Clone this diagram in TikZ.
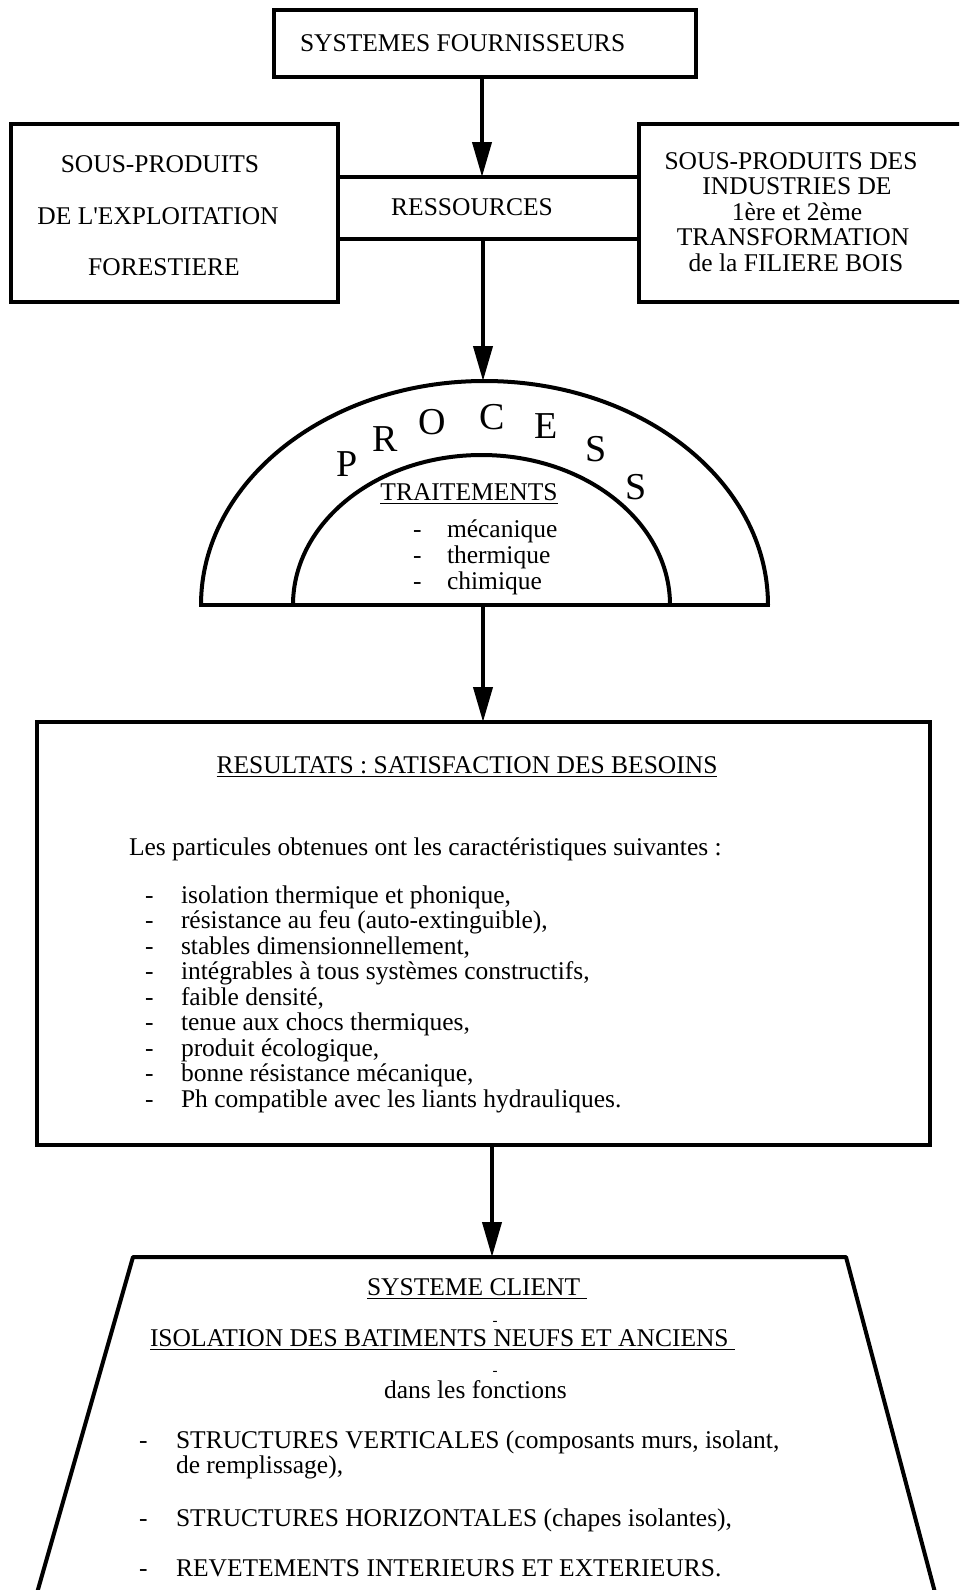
\documentclass[tikz,border=0pt]{standalone}
\usepackage{fontspec}
\setmainfont{Liberation Serif}[Ligatures=TeXOff]
\usetikzlibrary{arrows.meta}
\begin{document}
\begin{tikzpicture}[x=0.5pt,y=-0.5pt,
  every node/.style={inner sep=0pt, outer sep=0pt, font=\fontsize{12.75}{12.75}\selectfont},
  boxln/.style={draw, line width=2pt},
  outl/.style={line width=2pt},
  arr/.style={line width=2pt, -{Triangle[length=17.5pt,width=9.5pt]}},
  txt/.style={anchor=base},
  txtw/.style={anchor=base west},
  tiny/.style={anchor=base, font=\fontsize{7.5}{7.5}\selectfont},
  big/.style={anchor=center, font=\fontsize{19}{19}\selectfont}]
\useasboundingbox (0,0) rectangle (959,1590);
\clip (0,0) rectangle (959,1590);

% boxes
\node[boxln, minimum width=211pt, minimum height=33.5pt] (sf) at (485,43.5) {};
\node[boxln, minimum width=163.5pt, minimum height=89pt] (left) at (174.5,213) {};
\node[boxln, minimum width=180.5pt, minimum height=89pt] (right) at (819.5,213) {};
\node[boxln, minimum width=150.5pt, minimum height=31pt] (res) at (488.5,208) {};
\node[boxln, minimum width=446.5pt, minimum height=211.5pt] (resu) at (483.5,933.5) {};

% process shape
\draw[outl] (201,605) arc[start angle=180, end angle=0, x radius=141.75pt, y radius=112pt];
\draw[outl] (293,605) arc[start angle=180, end angle=0, x radius=94.25pt, y radius=75pt];
\draw[outl] (199,605) -- (770,605);
\coordinate (arctop) at (483,381);
\coordinate (basec) at (483,605);

% client trapezium
\draw[outl, line join=round] (35,1600) -- (133,1257) -- (846,1257) -- (937,1600);
\coordinate (traptop) at (492,1257);

% connectors
\coordinate (ax1) at (482,0);
\coordinate (ax4) at (492,0);
\draw[arr] (sf.south -| ax1) -- (res.north -| ax1);
\draw[arr] (res.south -| arctop) -- (arctop);
\draw[arr] (basec) -- (resu.north -| basec);
\draw[arr] (resu.south -| ax4) -- (traptop);

% texts top
\node[txtw] (tsf) at (300,51) {SYSTEMES FOURNISSEURS};
\node[txt] (tl1) at (160,172) {SOUS-PRODUITS};
\node[txt] (tl2) at (158,224) {DE L'EXPLOITATION};
\node[txt] (tl3) at (164,275) {FORESTIERE};
\node[txt] (tres) at (472,215) {RESSOURCES};
\node[txt] (tr1) at (791,169) {SOUS-PRODUITS DES};
\node[txt] (tr2) at (797,194.5) {INDUSTRIES DE};
\node[txt] (tr3) at (797,220) {1ère et 2ème};
\node[txt] (tr4) at (793,245.5) {TRANSFORMATION};
\node[txt] (tr5) at (796,271) {de la FILIERE BOIS};

% PROCESS letters
\node[big] (p1) at (347,464) {P};
\node[big] (p2) at (385,439) {R};
\node[big] (p3) at (432,422) {O};
\node[big] (p4) at (492,417) {C};
\node[big] (p5) at (546,426) {E};
\node[big] (p6) at (596,449) {S};
\node[big] (p7) at (636,487) {S};

\node[txt] (ttr) at (469,500) {\underline{TRAITEMENTS}};
\node[txtw] (d1) at (413,537) {-};
\node[txtw] (d2) at (413,563) {-};
\node[txtw] (d3) at (413,589) {-};
\node[txtw] (m1) at (447,537) {mécanique};
\node[txtw] (m2) at (447,563) {thermique};
\node[txtw] (m3) at (447,589) {chimique};

% results
\node[txt] (rt) at (467,773) {\underline{RESULTATS : SATISFACTION DES BESOINS}};
\node[txtw] (rp) at (129,855) {Les particules obtenues ont les caractéristiques suivantes :};
\foreach \t [count=\i from 0] in {isolation thermique et phonique{,},
  résistance au feu (auto-extinguible){,},
  stables dimensionnellement{,},
  intégrables à tous systèmes constructifs{,},
  faible densité{,},
  tenue aux chocs thermiques{,},
  produit écologique{,},
  bonne résistance mécanique{,},
  Ph compatible avec les liants hydrauliques.}{
  \node[txtw] (rd\i) at (145,903+25.5*\i) {-};
  \node[txtw] (ri\i) at (181,903+25.5*\i) {\t};
}

% client
\node[txtw] (c1) at (367,1295) {\underline{SYSTEME CLIENT\ }};
\node[tiny] (cd1) at (495,1325.5) {-};
\node[txtw] (c2) at (150,1346) {\underline{ISOLATION DES BATIMENTS NEUFS ET ANCIENS\ }};
\node[tiny] (cd2) at (495,1375.5) {-};
\node[txtw] (c3) at (384,1398) {dans les fonctions};
\node[txtw] (cb1) at (139,1448) {-};
\node[txtw] (ct1) at (176,1448) {STRUCTURES VERTICALES (composants murs, isolant,};
\node[txtw] (ct1b) at (176,1473) {de remplissage),};
\node[txtw] (cb2) at (139,1526) {-};
\node[txtw] (ct2) at (176,1526) {STRUCTURES HORIZONTALES (chapes isolantes),};
\node[txtw] (cb3) at (139,1576) {-};
\node[txtw] (ct3) at (176,1576) {REVETEMENTS INTERIEURS ET EXTERIEURS.};
\end{tikzpicture}
\end{document}
